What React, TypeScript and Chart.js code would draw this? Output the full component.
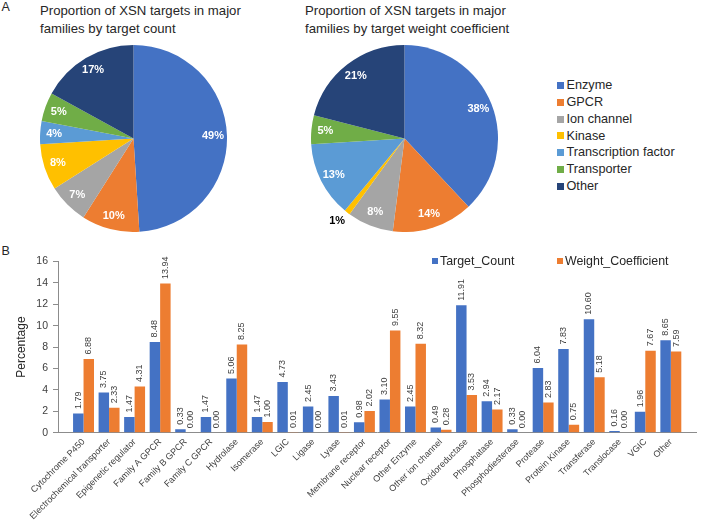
import React, { useEffect, useRef } from 'react';
import { Chart, registerables } from 'chart.js';
Chart.register(...registerables);

const FONT = '"Liberation Sans", Arial, Helvetica, sans-serif';

// ---- Panel A data ----
const pieFamilies = ['Enzyme', 'GPCR', 'Ion channel', 'Kinase', 'Transcription factor', 'Transporter', 'Other'];
const pieColors = ['#4472C4', '#ED7D31', '#A5A5A5', '#FFC000', '#5B9BD5', '#70AD47', '#264478'];
const pieCountShares = [49, 10, 7, 8, 4, 5, 17];
const pieWeightShares = [38, 14, 8, 1, 13, 5, 21];
const pieCountTitle = ['Proportion of XSN targets in major', 'families by target count'];
const pieWeightTitle = ['Proportion of XSN targets in major', 'families by target weight coefficient'];

// ---- Panel B data ----
const barCategories = [
  'Cytochrome P450', 'Electrochemical transporter', 'Epigenetic regulator', 'Family A GPCR',
  'Family B GPCR', 'Family C GPCR', 'Hydrolase', 'Isomerase', 'LGIC', 'Ligase', 'Lyase',
  'Membrane receptor', 'Nuclear receptor', 'Other Enzyme', 'Other ion channel', 'Oxidoreductase',
  'Phosphatase', 'Phosphodiesterase', 'Protease', 'Protein Kinase', 'Transferase', 'Translocase',
  'VGIC', 'Other',
];
const targetCount = [1.79, 3.75, 1.47, 8.48, 0.33, 1.47, 5.06, 1.47, 4.73, 2.45, 3.43, 0.98, 3.10, 2.45, 0.49, 11.91, 2.94, 0.33, 6.04, 7.83, 10.60, 0.16, 1.96, 8.65];
const weightCoefficient = [6.88, 2.33, 4.31, 13.94, 0.00, 0.00, 8.25, 1.00, 0.01, 0.00, 0.01, 2.02, 9.55, 8.32, 0.28, 3.53, 2.17, 0.00, 2.83, 0.75, 5.18, 0.00, 7.67, 7.59];
const seriesNames = ['Target_Count', 'Weight_Coefficient'];
const seriesColors = ['#4472C4', '#ED7D31'];
const yMin = 0;
const yMax = 16;
const yStep = 2;
const yTitle = 'Percentage';

const pieLabelPlugin = {
  id: 'pieLabels',
  afterDatasetsDraw(chart: any) {
    const ctx = chart.ctx;
    const meta = chart.getDatasetMeta(0);
    const values = chart.data.datasets[0].data as number[];
    ctx.save();
    ctx.font = `bold 11px ${FONT}`;
    ctx.textAlign = 'center';
    ctx.textBaseline = 'middle';
    meta.data.forEach((arc: any, i: number) => {
      const p = arc.getProps(['x', 'y', 'startAngle', 'endAngle', 'outerRadius'], true);
      const mid = (p.startAngle + p.endAngle) / 2;
      const small = values[i] < 2;
      const r = p.outerRadius * (small ? 1.14 : 0.85);
      ctx.fillStyle = small ? '#000000' : '#ffffff';
      ctx.fillText(values[i] + '%', p.x + Math.cos(mid) * r - (small ? 2 : 0), p.y + Math.sin(mid) * r - (small ? 1.5 : 0));
    });
    ctx.restore();
  },
};

const barValuePlugin = {
  id: 'barValues',
  afterDatasetsDraw(chart: any) {
    const ctx = chart.ctx;
    ctx.save();
    ctx.font = `9px ${FONT}`;
    ctx.fillStyle = '#404040';
    ctx.textAlign = 'left';
    ctx.textBaseline = 'middle';
    chart.data.datasets.forEach((ds: any, di: number) => {
      const meta = chart.getDatasetMeta(di);
      meta.data.forEach((bar: any, i: number) => {
        const v = ds.data[i].y as number;
        ctx.save();
        ctx.translate(bar.x, bar.y - 4.5);
        ctx.rotate(-Math.PI / 2);
        ctx.fillText(v.toFixed(2), 0, 0);
        ctx.restore();
      });
    });
    ctx.restore();
  },
};

function PieCanvas({ values, left, top, size }: { values: number[]; left: number; top: number; size: number }) {
  const ref = useRef<HTMLCanvasElement>(null);
  useEffect(() => {
    if (!ref.current) return;
    const chart = new Chart(ref.current, {
      type: 'pie',
      data: {
        labels: pieFamilies,
        datasets: [{ data: values, backgroundColor: pieColors, borderWidth: 0 }],
      },
      options: {
        animation: false,
        responsive: false,
        layout: { padding: 0 },
        plugins: { legend: { display: false }, tooltip: { enabled: false } },
      },
      plugins: [pieLabelPlugin],
    } as any);
    return () => chart.destroy();
  }, [values]);
  return (
    <canvas
      ref={ref}
      width={size}
      height={size}
      style={{ position: 'absolute', left, top, width: size, height: size }}
    />
  );
}

function BarCanvas() {
  const ref = useRef<HTMLCanvasElement>(null);
  useEffect(() => {
    if (!ref.current) return;
    const seriesValues = [targetCount, weightCoefficient];
    const chart = new Chart(ref.current, {
      type: 'bar',
      data: {
        datasets: seriesValues.map((vals, si) => ({
          label: seriesNames[si],
          data: vals.map((y, x) => ({ x, y })),
          backgroundColor: seriesColors[si],
          borderWidth: 0,
          categoryPercentage: 0.82,
          barPercentage: 1,
        })),
      },
      options: {
        animation: false,
        responsive: false,
        layout: { padding: { top: 11.5, right: 1, left: 0, bottom: 0 } },
        plugins: { legend: { display: false }, tooltip: { enabled: false } },
        scales: {
          x: {
            type: 'linear',
            min: -1,
            max: barCategories.length,
            offset: false,
            afterBuildTicks: (scale: any) => {
              const t = [];
              for (let i = -1; i <= barCategories.length; i++) t.push({ value: i });
              scale.ticks = t;
            },
            ticks: {
              autoSkip: false,
              maxRotation: 45,
              minRotation: 45,
              padding: 4,
              color: '#404040',
              font: { family: FONT, size: 9 },
              callback: (v: any) => barCategories[Math.round(Number(v))] ?? '',
            },
            grid: { display: false, drawTicks: false, offset: false },
            border: { display: true, color: '#8c8c8c', width: 1 },
            afterFit: (s: any) => {
              s.height = 89.3;
            },
          },
          y: {
            min: yMin,
            max: yMax,
            ticks: { stepSize: yStep, padding: 5, color: '#404040', font: { family: FONT, size: 10.5 } },
            grid: { drawOnChartArea: false, drawTicks: true, tickLength: 5, color: '#8c8c8c' },
            border: { display: true, color: '#8c8c8c', width: 1 },
            title: {
              display: true,
              text: yTitle,
              color: '#262626',
              font: { family: FONT, size: 12 },
              padding: { top: 14.5, bottom: 0 },
            },
            afterFit: (s: any) => {
              s.width = 58;
            },
          },
        },
      },
      plugins: [barValuePlugin],
    } as any);
    return () => chart.destroy();
  }, []);
  return (
    <canvas
      ref={ref}
      width={708}
      height={272}
      style={{ position: 'absolute', left: 0, top: 250, width: 708, height: 272 }}
    />
  );
}

const textBase: React.CSSProperties = { position: 'absolute', fontFamily: FONT, whiteSpace: 'nowrap' };

export default function App() {
  useEffect(() => {
    document.body.style.margin = '0';
  }, []);
  return (
    <div style={{ position: 'relative', width: 708, height: 522, background: '#ffffff', overflow: 'hidden' }}>
      <div style={{ ...textBase, left: 1.5, top: 1.1, fontSize: 12.5, lineHeight: 1, color: '#262626' }}>A</div>
      <div style={{ ...textBase, left: 1.5, top: 245.4, fontSize: 12.5, lineHeight: 1, color: '#262626' }}>B</div>

      <div style={{ ...textBase, left: 40, top: 2.4, fontSize: 13.2, lineHeight: '18px', color: '#262626' }}>
        {pieCountTitle.map((t) => (
          <div key={t}>{t}</div>
        ))}
      </div>
      <div style={{ ...textBase, left: 305, top: 2.4, fontSize: 13.2, lineHeight: '18px', color: '#262626' }}>
        {pieWeightTitle.map((t) => (
          <div key={t}>{t}</div>
        ))}
      </div>

      <PieCanvas values={pieCountShares} left={40} top={45} size={187} />
      <PieCanvas values={pieWeightShares} left={311} top={45} size={187} />

      <div style={{ ...textBase, left: 557, top: 76.9, fontSize: 12.7, color: '#262626' }}>
        {pieFamilies.map((f, i) => (
          <div key={f} style={{ position: 'relative', height: 16.9, lineHeight: '17px', paddingLeft: 9.5 }}>
            <span
              style={{
                position: 'absolute',
                left: 0,
                top: 4.9,
                width: 7,
                height: 7,
                background: pieColors[i],
              }}
            />
            {f}
          </div>
        ))}
      </div>

      <BarCanvas />

      {seriesNames.map((s, i) => (
        <div
          key={s}
          style={{
            ...textBase,
            left: i === 0 ? 432 : 557,
            top: 253.2,
            fontSize: 12.4,
            lineHeight: '16px',
            paddingLeft: 8,
            color: '#262626',
          }}
        >
          <span style={{ position: 'absolute', left: 0, top: 4.9, width: 6, height: 6, background: seriesColors[i] }} />
          {s}
        </div>
      ))}
    </div>
  );
}
